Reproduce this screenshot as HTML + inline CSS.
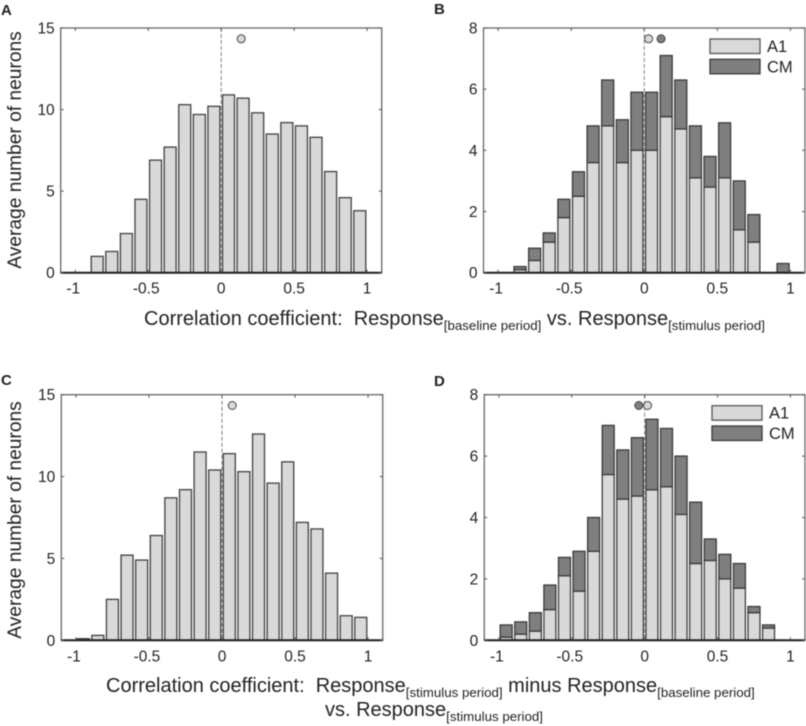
<!DOCTYPE html>
<html lang="en">
<head>
<meta charset="utf-8">
<title>Correlation histograms</title>
<style>
html,body{margin:0;padding:0;background:#fff;}
#figure{display:block;width:806px;height:726px;filter:blur(0.45px);}
text{font-family:"Liberation Sans",sans-serif;fill:#222;}
</style>
</head>
<body>
<svg id="figure" xmlns="http://www.w3.org/2000/svg" width="806" height="726" viewBox="0 0 806 726">
  <text x="1" y="15" font-size="15" font-weight="bold">A</text>
  <text x="434" y="14" font-size="15" font-weight="bold">B</text>
  <text x="1" y="385" font-size="15" font-weight="bold">C</text>
  <text x="434" y="386" font-size="15" font-weight="bold">D</text>

  <text transform="translate(21,150) rotate(-90)" text-anchor="middle" font-size="19.2">Average number of neurons</text>
  <text transform="translate(21,520) rotate(-90)" text-anchor="middle" font-size="19.2">Average number of neurons</text>

  <text x="144" y="325" font-size="20">Correlation coefficient:&#160; Response<tspan font-size="13.3" dy="5">[baseline period]</tspan><tspan dy="-5"> vs. Response</tspan><tspan font-size="13.3" dy="5">[stimulus period]</tspan></text>
  <text x="106" y="692" font-size="20">Correlation coefficient:&#160; Response<tspan font-size="13.3" dy="5">[stimulus period]</tspan><tspan dy="-5"> minus Response</tspan><tspan font-size="13.3" dy="5">[baseline period]</tspan></text>
  <text x="325" y="716" font-size="20">vs. Response<tspan font-size="13.3" dy="5">[stimulus period]</tspan></text>
</svg>
<script>
// Histogram bin centres (correlation coefficient)
var binCenters = [-0.95,-0.85,-0.75,-0.65,-0.55,-0.45,-0.35,-0.25,-0.15,-0.05,0.05,0.15,0.25,0.35,0.45,0.55,0.65,0.75,0.85,0.95];

// Panel A
var panelAValues = [0,1.0,1.3,2.4,4.5,6.9,7.7,10.3,9.7,10.2,10.9,10.7,9.8,8.5,9.2,9.0,8.3,6.2,4.6,3.8];
var panelAMeans = [0.137];
// Panel B
var panelBA1 = [0,0.1,0.4,1.0,1.8,2.5,3.6,4.8,3.6,4.0,4.0,5.1,4.7,3.1,2.8,3.1,1.4,1.0,0,0];
var panelBCM = [0,0.1,0.4,0.3,0.6,0.8,1.2,1.5,1.4,1.9,1.9,2.0,1.6,1.7,1.0,1.8,1.6,0.9,0,0.3];
var panelBMeans = [0.03,0.115];
// Panel C
var panelCValues = [0.1,0.3,2.5,5.2,4.9,6.4,8.7,9.2,11.5,10.4,11.4,10.3,12.6,9.6,10.9,7.2,6.8,4.1,1.5,1.4];
var panelCMeans = [0.07];
// Panel D
var panelDA1 = [0.1,0.2,0.3,1.0,2.1,1.6,2.9,5.4,4.6,4.7,4.9,5.0,4.1,2.5,2.6,2.0,1.7,0.9,0.4,0];
var panelDCM = [0.4,0.4,0.6,0.8,0.6,1.3,1.1,1.6,1.6,1.9,2.3,1.9,1.9,2.0,0.7,0.8,0.8,0.2,0.1,0];
var panelDMeans = [0.02,-0.04];

// Tick labels
var xTicks = [-1,-0.5,0,0.5,1];
var yTicksCount15 = [0,5,10,15];
var yTicksCount8 = [0,2,4,6,8];
var legendLabels = ['A1','CM'];

var NS = 'http://www.w3.org/2000/svg';
var fig = document.getElementById('figure');
var A1_FILL = '#d9d9d9';
var CM_FILL = '#7f7f7f';
var BAR_STROKE = '#404040';

function make(tag, parent, attrs, txt) {
  var el = document.createElementNS(NS, tag);
  for (var k in attrs) el.setAttribute(k, attrs[k]);
  if (txt !== undefined) el.textContent = txt;
  parent.appendChild(el);
  return el;
}

function drawPanel(p) {
  var xScale = function (v) { return p.left + (v + 1.1) / 2.2 * (p.right - p.left); };
  var yScale = function (v) { return p.bottom - v / p.yMax * (p.bottom - p.top); };
  var g = make('g', fig, {});
  
  

  var frame = make('rect', g, {x: p.left, y: p.top, width: p.right - p.left, height: p.bottom - p.top, fill: 'none', stroke: '#666', 'stroke-width': 1.3});
  
  

  // bars
  var barW = xScale(0.082) - xScale(0);
  binCenters.forEach(function (c, i) {
    var a = p.a1[i];
    var b = p.cm ? p.cm[i] : 0;
    var x = xScale(c) - barW / 2;
    if (a > 0) {
      var r1 = make('rect', g, {x: x, y: yScale(a), width: barW, height: yScale(0) - yScale(a), fill: A1_FILL, stroke: BAR_STROKE, 'stroke-width': 1.3});
      
      
    }
    if (b > 0) {
      var r2 = make('rect', g, {x: x, y: yScale(a + b), width: barW, height: yScale(a) - yScale(a + b), fill: CM_FILL, stroke: '#3a3a3a', 'stroke-width': 1.3});
      
      
    }
  });

  // zero reference line
  var zero = make('line', g, {x1: xScale(0), x2: xScale(0), y1: p.top, y2: p.bottom, stroke: '#808080', 'stroke-width': 1, 'stroke-dasharray': '4 2'});
  
  

  // baseline
  var base = make('line', g, {x1: p.left, x2: p.right, y1: p.bottom, y2: p.bottom, stroke: '#1c1c1c', 'stroke-width': 2});
  
  

  // x ticks
  xTicks.forEach(function (t) {
    var X = xScale(t);
    make('line', g, {x1: X, x2: X, y1: p.top, y2: p.top + 3, stroke: '#555', 'stroke-width': 1});
    make('line', g, {x1: X, x2: X, y1: p.bottom, y2: p.bottom - 3, stroke: '#555', 'stroke-width': 1});
    var lab = make('text', g, {x: X - (t < 0 ? 2 : 0), y: p.bottom + 21, 'text-anchor': 'middle', 'font-size': 15.5}, String(t));
    
    
  });

  // y ticks
  p.yTicks.forEach(function (t) {
    var Y = yScale(t);
    make('line', g, {x1: p.left, x2: p.left + 3, y1: Y, y2: Y, stroke: '#555', 'stroke-width': 1});
    make('line', g, {x1: p.right, x2: p.right - 3, y1: Y, y2: Y, stroke: '#555', 'stroke-width': 1});
    var lab = make('text', g, {x: p.left - 6, y: Y + 5.5, 'text-anchor': 'end', 'font-size': 15.5}, String(t));
    
    
  });

  // mean markers
  var fills = [A1_FILL, CM_FILL];
  p.means.forEach(function (m, i) {
    var dot = make('circle', g, {cx: xScale(m), cy: p.top + 10.8, r: 4, fill: fills[i], stroke: '#444', 'stroke-width': 1});
    
    
  });

  // legend
  if (p.cm) {
    legendLabels.forEach(function (name, i) {
      var ly = p.top + 11 + i * 20.3;
      var sw = make('rect', g, {x: p.legendX, y: ly, width: 50, height: 14.5, fill: fills[i], stroke: i ? '#3a3a3a' : '#555', 'stroke-width': 1.3});
      
      
      var lt = make('text', g, {x: p.legendX + 57, y: ly + 13, 'font-size': 16.5}, name);
      
      
    });
  }
}

drawPanel({id: 'a', left: 60.7, right: 381.7, top: 28, bottom: 272.7, yMax: 15, yTicks: yTicksCount15, a1: panelAValues, cm: null, means: panelAMeans});
drawPanel({id: 'b', left: 483.5, right: 805, top: 28, bottom: 272.7, yMax: 8, yTicks: yTicksCount8, a1: panelBA1, cm: panelBCM, means: panelBMeans, legendX: 710});
drawPanel({id: 'c', left: 61.3, right: 382.7, top: 394.7, bottom: 640.3, yMax: 15, yTicks: yTicksCount15, a1: panelCValues, cm: null, means: panelCMeans});
drawPanel({id: 'd', left: 484.3, right: 805, top: 394.7, bottom: 640.3, yMax: 8, yTicks: yTicksCount8, a1: panelDA1, cm: panelDCM, means: panelDMeans, legendX: 712});
</script>
</body>
</html>
